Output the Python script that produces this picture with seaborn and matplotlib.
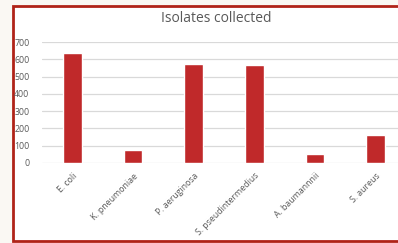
import matplotlib as mpl
mpl.use('Agg')
import matplotlib.pyplot as plt
from matplotlib.patches import Rectangle
import seaborn as sns

organisms = ['E. coli', 'K. pneumoniae', 'P. aeruginosa', 'S. pseudintermedius',
             'A. baumannnii', 'S. aureus']
isolates = [636, 75, 573, 567, 52, 160]
yticks = [0, 100, 200, 300, 400, 500, 600, 700]

sns.set_style('white')
plt.rcParams['font.family'] = ['Open Sans', 'DejaVu Sans']

W, H = 398, 243
fig = plt.figure(figsize=(W / 100, H / 100), dpi=100)
fig.patch.set_facecolor('#faf8f3')

# chart frame (white panel with dark red border, cut off at the right)
frame = Rectangle((13 / W, 2 / H), 1.2, 235 / H, transform=fig.transFigure,
                  facecolor='white', edgecolor='#b02318', linewidth=2, zorder=0)
fig.patches.append(frame)

ax = fig.add_axes([42 / W, 80 / H, 364 / W, 121 / H])
ax.set_zorder(2)
ax.set_facecolor('none')
sns.barplot(x=organisms, y=isolates, color='#c0292a', saturation=1, width=0.31,
            ax=ax, zorder=3)

ax.set_ylim(0, 700)
ax.set_yticks(yticks)
ax.grid(axis='y', color='#d9d9d9', linewidth=0.9, zorder=0)
ax.set_axisbelow(True)
for s in ax.spines.values():
    s.set_visible(False)
ax.tick_params(length=0, labelsize=6.3, labelcolor='#595959')
ax.tick_params(axis='y', pad=9)
ax.tick_params(axis='x', pad=6)
plt.setp(ax.get_xticklabels(), rotation=45, ha='right', rotation_mode='anchor')
ax.set_xlabel('')
ax.set_ylabel('')

fig.text(216 / W, 1 - 18 / H, 'Isolates collected', ha='center', va='center',
         fontsize=10, color='#595959')

fig.savefig('out.png', dpi=100)
